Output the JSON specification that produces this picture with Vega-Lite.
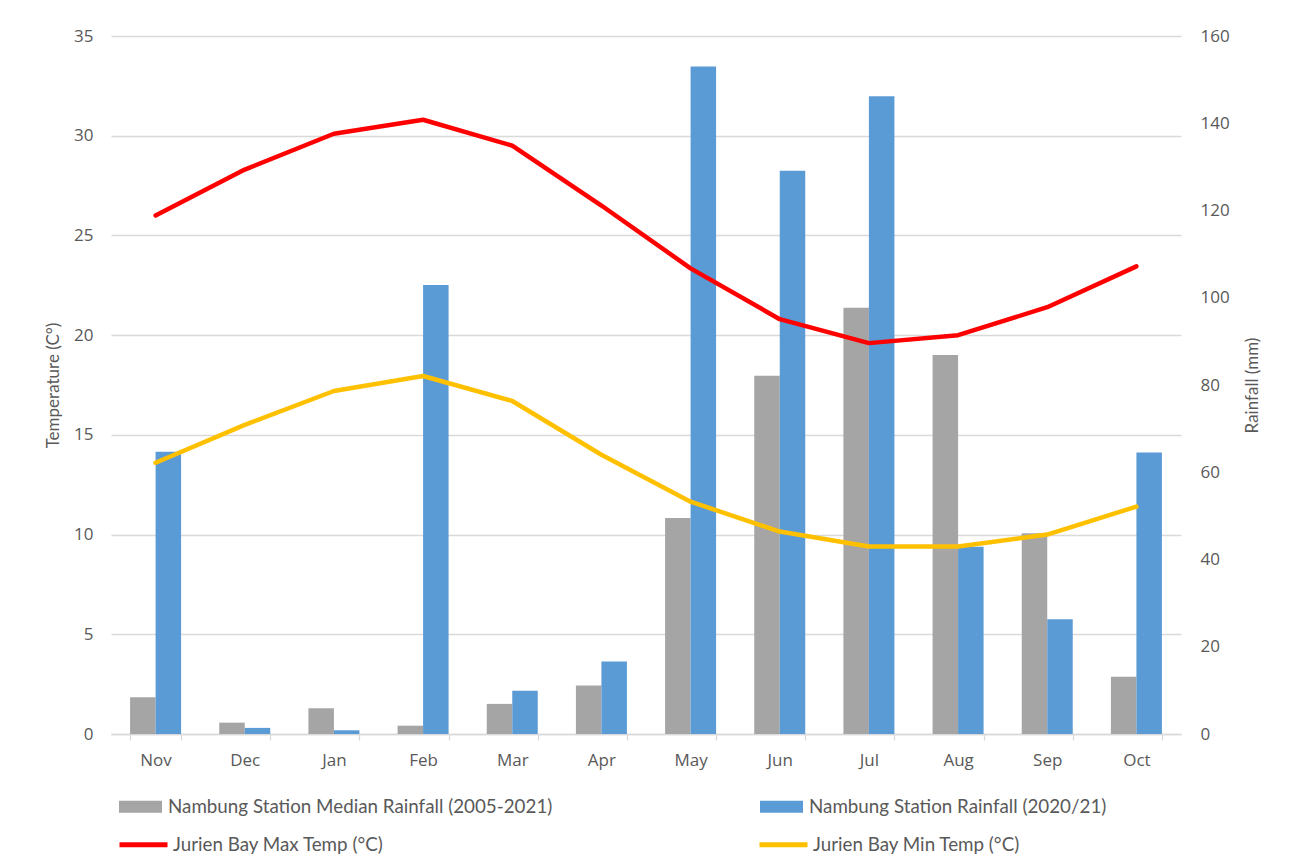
{
  "$schema": "https://vega.github.io/schema/vega-lite/v6.json",
  "width": 1070,
  "height": 698,
  "autosize": {"type": "none"},
  "padding": {"left": 111, "top": 36, "right": 109, "bottom": 132},
  "background": "white",
  "config": {"view": {"stroke": null}, "font": "Lato"},
  "data": {
    "values": [
      {"month": "Nov", "kind": "rain", "series": "Nambung Station Median Rainfall (2005-2021)", "value": 8.4},
      {"month": "Dec", "kind": "rain", "series": "Nambung Station Median Rainfall (2005-2021)", "value": 2.6},
      {"month": "Jan", "kind": "rain", "series": "Nambung Station Median Rainfall (2005-2021)", "value": 5.9},
      {"month": "Feb", "kind": "rain", "series": "Nambung Station Median Rainfall (2005-2021)", "value": 1.9},
      {"month": "Mar", "kind": "rain", "series": "Nambung Station Median Rainfall (2005-2021)", "value": 6.9},
      {"month": "Apr", "kind": "rain", "series": "Nambung Station Median Rainfall (2005-2021)", "value": 11.1},
      {"month": "May", "kind": "rain", "series": "Nambung Station Median Rainfall (2005-2021)", "value": 49.5},
      {"month": "Jun", "kind": "rain", "series": "Nambung Station Median Rainfall (2005-2021)", "value": 82.1},
      {"month": "Jul", "kind": "rain", "series": "Nambung Station Median Rainfall (2005-2021)", "value": 97.7},
      {"month": "Aug", "kind": "rain", "series": "Nambung Station Median Rainfall (2005-2021)", "value": 86.9},
      {"month": "Sep", "kind": "rain", "series": "Nambung Station Median Rainfall (2005-2021)", "value": 46.0},
      {"month": "Oct", "kind": "rain", "series": "Nambung Station Median Rainfall (2005-2021)", "value": 13.1},
      {"month": "Nov", "kind": "rain", "series": "Nambung Station Rainfall (2020/21)", "value": 64.7},
      {"month": "Dec", "kind": "rain", "series": "Nambung Station Rainfall (2020/21)", "value": 1.4},
      {"month": "Jan", "kind": "rain", "series": "Nambung Station Rainfall (2020/21)", "value": 0.85},
      {"month": "Feb", "kind": "rain", "series": "Nambung Station Rainfall (2020/21)", "value": 102.9},
      {"month": "Mar", "kind": "rain", "series": "Nambung Station Rainfall (2020/21)", "value": 9.9},
      {"month": "Apr", "kind": "rain", "series": "Nambung Station Rainfall (2020/21)", "value": 16.6},
      {"month": "May", "kind": "rain", "series": "Nambung Station Rainfall (2020/21)", "value": 153.0},
      {"month": "Jun", "kind": "rain", "series": "Nambung Station Rainfall (2020/21)", "value": 129.1},
      {"month": "Jul", "kind": "rain", "series": "Nambung Station Rainfall (2020/21)", "value": 146.2},
      {"month": "Aug", "kind": "rain", "series": "Nambung Station Rainfall (2020/21)", "value": 42.9},
      {"month": "Sep", "kind": "rain", "series": "Nambung Station Rainfall (2020/21)", "value": 26.3},
      {"month": "Oct", "kind": "rain", "series": "Nambung Station Rainfall (2020/21)", "value": 64.5},
      {"month": "Nov", "kind": "temp", "series": "Jurien Bay Max Temp (°C)", "value": 26.0},
      {"month": "Dec", "kind": "temp", "series": "Jurien Bay Max Temp (°C)", "value": 28.3},
      {"month": "Jan", "kind": "temp", "series": "Jurien Bay Max Temp (°C)", "value": 30.1},
      {"month": "Feb", "kind": "temp", "series": "Jurien Bay Max Temp (°C)", "value": 30.8},
      {"month": "Mar", "kind": "temp", "series": "Jurien Bay Max Temp (°C)", "value": 29.5},
      {"month": "Apr", "kind": "temp", "series": "Jurien Bay Max Temp (°C)", "value": 26.5},
      {"month": "May", "kind": "temp", "series": "Jurien Bay Max Temp (°C)", "value": 23.35},
      {"month": "Jun", "kind": "temp", "series": "Jurien Bay Max Temp (°C)", "value": 20.8},
      {"month": "Jul", "kind": "temp", "series": "Jurien Bay Max Temp (°C)", "value": 19.6},
      {"month": "Aug", "kind": "temp", "series": "Jurien Bay Max Temp (°C)", "value": 20.0},
      {"month": "Sep", "kind": "temp", "series": "Jurien Bay Max Temp (°C)", "value": 21.4},
      {"month": "Oct", "kind": "temp", "series": "Jurien Bay Max Temp (°C)", "value": 23.45},
      {"month": "Nov", "kind": "temp", "series": "Jurien Bay Min Temp (°C)", "value": 13.6},
      {"month": "Dec", "kind": "temp", "series": "Jurien Bay Min Temp (°C)", "value": 15.5},
      {"month": "Jan", "kind": "temp", "series": "Jurien Bay Min Temp (°C)", "value": 17.2},
      {"month": "Feb", "kind": "temp", "series": "Jurien Bay Min Temp (°C)", "value": 17.95},
      {"month": "Mar", "kind": "temp", "series": "Jurien Bay Min Temp (°C)", "value": 16.7},
      {"month": "Apr", "kind": "temp", "series": "Jurien Bay Min Temp (°C)", "value": 14.0},
      {"month": "May", "kind": "temp", "series": "Jurien Bay Min Temp (°C)", "value": 11.65},
      {"month": "Jun", "kind": "temp", "series": "Jurien Bay Min Temp (°C)", "value": 10.15},
      {"month": "Jul", "kind": "temp", "series": "Jurien Bay Min Temp (°C)", "value": 9.4},
      {"month": "Aug", "kind": "temp", "series": "Jurien Bay Min Temp (°C)", "value": 9.4},
      {"month": "Sep", "kind": "temp", "series": "Jurien Bay Min Temp (°C)", "value": 10.0},
      {"month": "Oct", "kind": "temp", "series": "Jurien Bay Min Temp (°C)", "value": 11.4}
    ]
  },
  "encoding": {
    "x": {
      "field": "month",
      "type": "nominal",
      "sort": ["Nov", "Dec", "Jan", "Feb", "Mar", "Apr", "May", "Jun", "Jul", "Aug", "Sep", "Oct"],
      "scale": {"paddingInner": 0.428, "paddingOuter": 0.214},
      "axis": {
        "title": null,
        "labelAngle": 0,
        "grid": false,
        "domainColor": "#d9d9d9",
        "domainWidth": 1.3,
        "tickColor": "#d9d9d9",
        "tickWidth": 1.3,
        "tickSize": 6,
        "tickBand": "extent",
        "labelPadding": 12,
        "labelFont": "Open Sans",
        "labelFontSize": 17,
        "labelColor": "#595959"
      }
    }
  },
  "layer": [
    {
      "transform": [{"filter": "datum.kind === 'rain'"}],
      "mark": {"type": "bar"},
      "encoding": {
        "xOffset": {
          "field": "series",
          "type": "nominal",
          "sort": ["Nambung Station Median Rainfall (2005-2021)", "Nambung Station Rainfall (2020/21)"],
          "scale": {"paddingInner": 0, "paddingOuter": 0}
        },
        "y": {
          "field": "value",
          "type": "quantitative",
          "scale": {"domain": [0, 160], "nice": false},
          "axis": {
            "orient": "right",
            "values": [0, 20, 40, 60, 80, 100, 120, 140, 160],
            "grid": false,
            "domain": false,
            "ticks": false,
            "labelPadding": 19,
            "labelFont": "Open Sans",
            "labelFontSize": 17,
            "labelColor": "#595959",
            "title": "Rainfall (mm)",
            "titleFont": "Lato",
            "titleFontSize": 17,
            "titleFontWeight": "normal",
            "titleColor": "#595959",
            "titleAngle": -90,
            "titleAlign": "center",
            "titleBaseline": "middle",
            "titleX": 71,
            "titleY": 349
          }
        },
        "fill": {
          "field": "series",
          "type": "nominal",
          "scale": {
            "domain": ["Nambung Station Median Rainfall (2005-2021)", "Nambung Station Rainfall (2020/21)"],
            "range": ["#A5A5A5", "#5B9BD5"]
          },
          "legend": {
            "title": null,
            "orient": "none",
            "legendX": 8,
            "legendY": 749,
            "direction": "horizontal",
            "columns": 2,
            "columnPadding": 207,
            "padding": 0,
            "symbolType": "M-1,-0.28H1V0.28H-1Z",
            "symbolSize": 1849,
            "symbolStrokeWidth": 0,
            "symbolOpacity": 1,
            "labelOffset": 6,
            "labelFont": "Lato",
            "labelFontSize": 18.8,
            "labelColor": "#595959",
            "labelLimit": 600
          }
        }
      }
    },
    {
      "transform": [{"filter": "datum.kind === 'temp'"}],
      "mark": {"type": "line", "strokeWidth": 4.5, "strokeCap": "round", "strokeJoin": "round"},
      "encoding": {
        "y": {
          "field": "value",
          "type": "quantitative",
          "scale": {"domain": [0, 35], "nice": false},
          "axis": {
            "orient": "left",
            "values": [0, 5, 10, 15, 20, 25, 30, 35],
            "grid": true,
            "gridColor": "#d9d9d9",
            "gridWidth": 1.3,
            "domain": false,
            "ticks": false,
            "labelPadding": 18,
            "labelFont": "Open Sans",
            "labelFontSize": 17,
            "labelColor": "#595959",
            "title": "Temperature (C°)",
            "titleFont": "Lato",
            "titleFontSize": 17,
            "titleFontWeight": "normal",
            "titleColor": "#595959",
            "titleAngle": -90,
            "titleAlign": "center",
            "titleBaseline": "middle",
            "titleX": -58,
            "titleY": 349
          }
        },
        "stroke": {
          "field": "series",
          "type": "nominal",
          "scale": {
            "domain": ["Jurien Bay Max Temp (°C)", "Jurien Bay Min Temp (°C)"],
            "range": ["#FF0000", "#FFC000"]
          },
          "legend": {
            "title": null,
            "orient": "none",
            "legendX": 6,
            "legendY": 782,
            "direction": "horizontal",
            "columns": 2,
            "columnPadding": 365,
            "padding": 0,
            "symbolType": "stroke",
            "symbolSize": 2304,
            "symbolStrokeWidth": 5,
            "labelOffset": 3,
            "labelFont": "Lato",
            "labelFontSize": 18.8,
            "labelColor": "#595959",
            "labelLimit": 600
          }
        }
      }
    }
  ],
  "resolve": {"scale": {"y": "independent"}}
}
